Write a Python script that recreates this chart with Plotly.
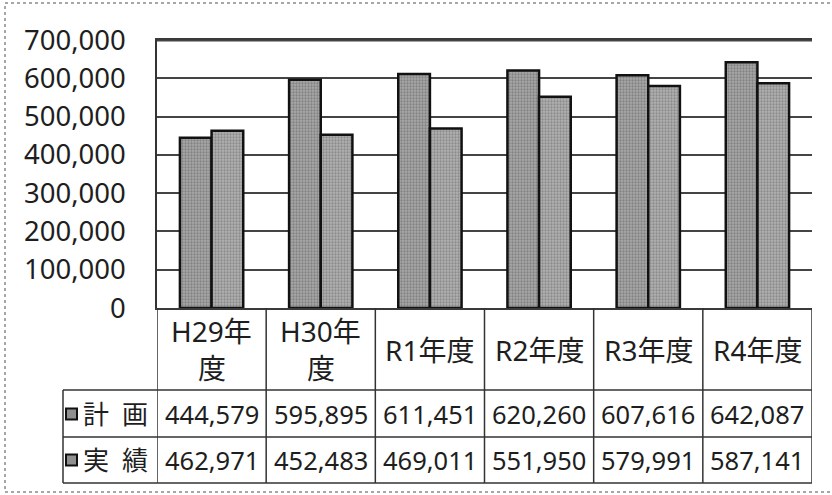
import plotly.graph_objects as go

categories = ["H29年度", "H30年度", "R1年度", "R2年度", "R3年度", "R4年度"]
header_lines = [["H29年", "度"], ["H30年", "度"], ["R1年度"], ["R2年度"], ["R3年度"], ["R4年度"]]
series_names = ["計画", "実績"]
plan = [444579, 595895, 611451, 620260, 607616, 642087]
actual = [462971, 452483, 469011, 551950, 579991, 587141]
y_ticks = [0, 100000, 200000, 300000, 400000, 500000, 600000, 700000]

W, H = 832, 495
L, R, T, B = 157, 812, 40, 308

def px(x):
    return (x - L) / (R - L)

def py(y):
    return (B - y) / (B - T)

FONT = "Noto Sans, Noto Sans CJK JP, sans-serif"
TXT = "#1e1e1e"
fill_cols = [("#5c5c5c", "#a8a8a8"), ("#646464", "#b2b2b2")]

fig = go.Figure()
for name, vals, (fg, bg) in zip(series_names, [plan, actual], fill_cols):
    fig.add_trace(go.Bar(
        x=categories, y=vals, name=name,
        marker=dict(color=bg, line=dict(color="#111111", width=2.5),
                    pattern=dict(shape=".", fgcolor=fg, bgcolor=bg, size=3, solidity=0.45)),
        showlegend=False,
    ))

shapes = []
line_style = dict(color="#333333", width=1.5)
# top border of the plot area, at the top of the y range
shapes.append(dict(type="line", xref="paper", yref="paper", x0=0, x1=1,
                   y0=0.997, y1=0.997, line=dict(color="#444444", width=1.5)))
for yy in [390, 437, 483]:
    shapes.append(dict(type="line", xref="paper", yref="paper", x0=px(63), x1=px(R),
                       y0=py(yy), y1=py(yy), line=line_style))
shapes.append(dict(type="line", xref="paper", yref="paper", x0=px(63), x1=px(63),
                   y0=py(390), y1=py(483), line=line_style))
for i in range(len(categories) + 1):
    shapes.append(dict(type="line", xref="x", yref="paper", x0=i - 0.5, x1=i - 0.5,
                       y0=py(308), y1=py(483), line=line_style))
shapes.append(dict(type="rect", xref="paper", yref="paper", x0=px(5), x1=px(845),
                   y0=py(3), y1=py(492), line=dict(color="#8a8a8a", width=1.5, dash="dot")))

annotations = []
for cat, lines in zip(categories, header_lines):
    if len(lines) == 1:
        annotations.append(dict(x=cat, xref="x", y=py(350), yref="paper", text=lines[0],
                                showarrow=False, font=dict(family=FONT, size=28, color=TXT),
                                xanchor="center", yanchor="middle"))
    else:
        for ln, yy in zip(lines, [331, 368]):
            annotations.append(dict(x=cat, xref="x", y=py(yy), yref="paper", text=ln,
                                    showarrow=False, font=dict(family=FONT, size=28, color=TXT),
                                    xanchor="center", yanchor="middle"))
for name, vals, (fg, bg), yy in zip(series_names, [plan, actual], fill_cols, [414, 460]):
    shapes.append(dict(type="rect", xref="paper", yref="paper", x0=px(66), x1=px(77),
                       y0=py(yy - 5.5), y1=py(yy + 5.5), fillcolor="#909090",
                       line=dict(color="#111111", width=2)))
    annotations.append(dict(x=px(81), xref="paper", y=py(yy), yref="paper",
                            text="\u2002".join(name), showarrow=False,
                            font=dict(family=FONT, size=26, color=TXT),
                            xanchor="left", yanchor="middle"))
    for cat, v in zip(categories, vals):
        annotations.append(dict(x=cat, xref="x", y=py(yy), yref="paper", text=f"{v:,}",
                                showarrow=False, font=dict(family=FONT, size=25.5, color=TXT),
                                xanchor="center", yanchor="middle"))

fig.update_layout(
    width=W, height=H,
    margin=dict(l=L, r=W - R, t=T, b=H - B, pad=0),
    paper_bgcolor="white", plot_bgcolor="white",
    barmode="group", bargap=0.42, bargroupgap=0,
    shapes=shapes, annotations=annotations,
    font=dict(family=FONT, color=TXT),
)
fig.update_xaxes(range=[-0.5, len(categories) - 0.5], showticklabels=False, showgrid=False,
                 showline=True, mirror=True, linecolor="#3a3a3a", linewidth=1.5,
                 zeroline=False, fixedrange=True)
fig.update_yaxes(range=[0, 700000], tickvals=y_ticks, tickformat=",", showgrid=True,
                 gridcolor="#444444", gridwidth=1.5, zeroline=False, showline=True,
                 linecolor="#333333", linewidth=1.5, ticks="", ticklabelstandoff=24,
                 tickfont=dict(family=FONT, size=27.5, color=TXT), fixedrange=True)

fig.write_html("out.html", config={"displayModeBar": False},
               post_script="document.body.style.margin='0';document.body.style.overflow='hidden';")
